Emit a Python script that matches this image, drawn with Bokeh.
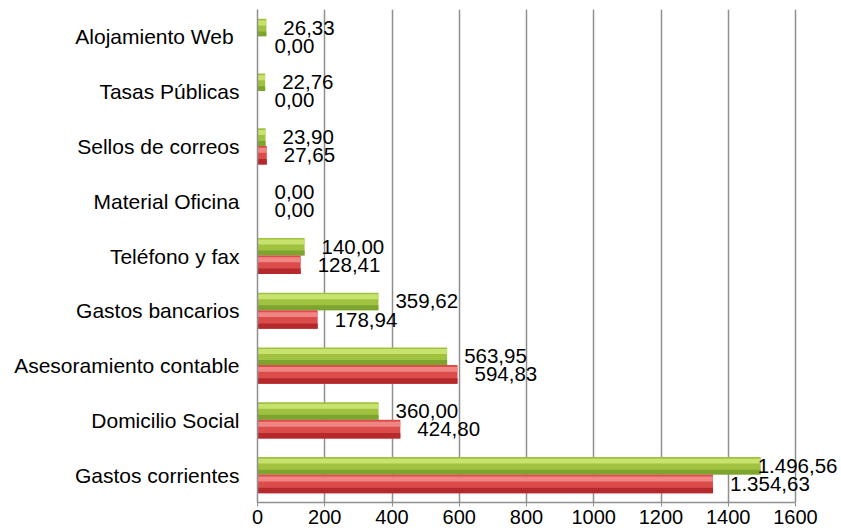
from bokeh.plotting import figure
from bokeh.models import ColumnDataSource, FactorRange, Range1d, FixedTicker, LabelSet
from bokeh.transform import dodge
from bokeh.core.properties import value
from bokeh.embed import file_html
from bokeh.resources import INLINE

# Data (bottom to top)
categories = ["Gastos corrientes", "Domicilio Social", "Asesoramiento contable",
              "Gastos bancarios", "Teléfono y fax", "Material Oficina",
              "Sellos de correos", "Tasas Públicas", "Alojamiento  Web"]
serie_verde = [1496.56, 360.00, 563.95, 359.62, 140.00, 0.00, 23.90, 22.76, 26.33]
serie_roja = [1354.63, 424.80, 594.83, 178.94, 128.41, 0.00, 27.65, 0.00, 0.00]
x_ticks = [0, 200, 400, 600, 800, 1000, 1200, 1400, 1600]
x_max = 1600


def fmt(v):
    s = f"{v:,.2f}"
    return s.replace(",", "X").replace(".", ",").replace("X", ".")


FONT = "Liberation Sans"

W, H = 841, 532
LEFT, RIGHT_EDGE = 257, 795  # frame left, position of the last tick
px_per_unit = (RIGHT_EDGE - LEFT) / x_max
x_end = x_max + (W - RIGHT_EDGE) / px_per_unit

src = ColumnDataSource(dict(
    cat=categories,
    verde=serie_verde,
    roja=serie_roja,
    lab_v=[fmt(v) for v in serie_verde],
    lab_r=[fmt(v) for v in serie_roja],
    off_v=[-3 if v > 1450 else 17 for v in serie_verde],
    off_r=[-3 if v > 1450 else 17 for v in serie_roja],
))

p = figure(width=W, height=H, output_backend="svg", toolbar_location=None,
           y_range=FactorRange(factors=categories, range_padding=0),
           x_range=Range1d(0, x_end),
           min_border_left=LEFT, min_border_right=0, min_border_top=9,
           min_border_bottom=30)
p.outline_line_color = None
p.background_fill_color = "white"
p.border_fill_color = "white"

yr = p.y_range
G_OFF, G_H = 0.17, 0.32
R_OFF, R_H = -0.16, 0.34
# green bars (upper) with simple shading
p.hbar(y=dodge("cat", G_OFF, range=yr), right="verde", left=0, height=G_H,
       source=src, fill_color="#a0c240", line_color=None)
p.hbar(y=dodge("cat", G_OFF + 0.085, range=yr), right="verde", left=0, height=0.09,
       source=src, fill_color="#c8e26e", line_color=None)
p.hbar(y=dodge("cat", G_OFF - 0.115, range=yr), right="verde", left=0, height=0.09,
       source=src, fill_color="#7ca42e", line_color=None)
# red bars (lower)
p.hbar(y=dodge("cat", R_OFF, range=yr), right="roja", left=0, height=R_H,
       source=src, fill_color="#dc4c4b", line_color=None)
p.hbar(y=dodge("cat", R_OFF + 0.09, range=yr), right="roja", left=0, height=0.09,
       source=src, fill_color="#f08684", line_color=None)
p.hbar(y=dodge("cat", R_OFF - 0.12, range=yr), right="roja", left=0, height=0.10,
       source=src, fill_color="#b5292d", line_color=None)

# data labels
for col, lab, off, dy in (("verde", "lab_v", "off_v", G_OFF), ("roja", "lab_r", "off_r", R_OFF)):
    p.add_layout(LabelSet(x=col, y=dodge("cat", dy, range=yr), text=lab,
                          x_offset=off, source=src, text_font=value(FONT),
                          text_font_size="20.5px", text_baseline="middle",
                          text_align="left", text_color="black"))

# grid
p.ygrid.grid_line_color = None
p.xgrid.grid_line_color = "#8f8f8f"
p.xgrid.grid_line_width = 1.5
p.xgrid.bounds = (0, x_max)
p.xaxis.ticker = FixedTicker(ticks=x_ticks)

# axes
p.xaxis.bounds = (0, x_max)
p.xaxis.axis_line_color = "#8f8f8f"
p.xaxis.axis_line_width = 1.5
p.xaxis.major_tick_line_color = "#8f8f8f"
p.xaxis.major_tick_out = 4
p.xaxis.major_tick_in = 0
p.xaxis.minor_tick_line_color = None
p.xaxis.major_label_standoff = 3
p.xaxis.major_label_text_font = FONT
p.xaxis.major_label_text_font_size = "20px"
p.xaxis.major_label_text_color = "black"

p.yaxis.axis_line_color = "#8f8f8f"
p.yaxis.axis_line_width = 1.5
p.yaxis.major_tick_line_color = None
p.yaxis.major_tick_out = 0
p.yaxis.major_tick_in = 0
p.yaxis.minor_tick_line_color = None
p.yaxis.major_label_standoff = 18
p.yaxis.major_label_text_font = FONT
p.yaxis.major_label_text_font_size = "21px"
p.yaxis.major_label_text_color = "black"

open("out.html", "w").write(file_html(p, INLINE))
